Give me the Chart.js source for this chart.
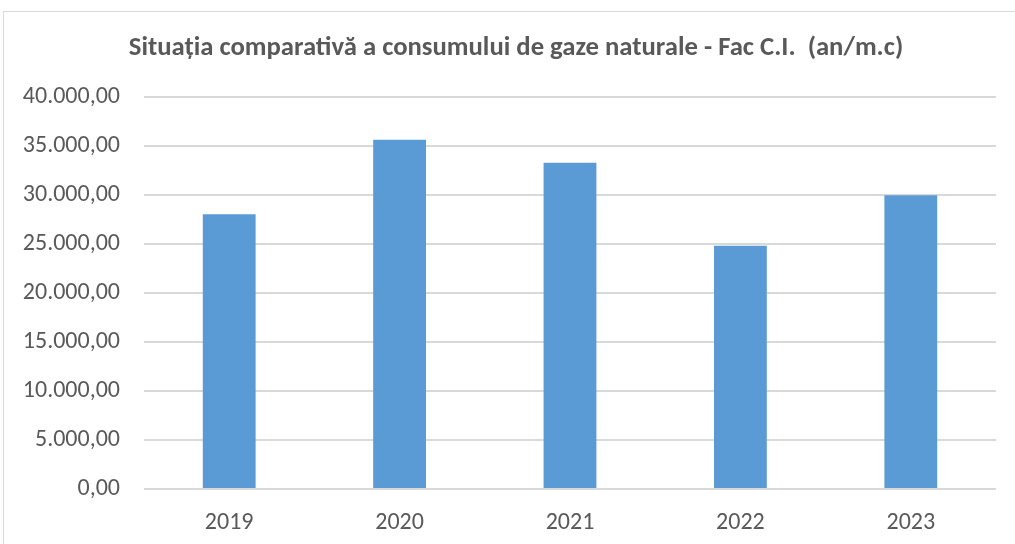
<!DOCTYPE html>
<html>
<head>
<meta charset="utf-8">
<script src="https://cdn.jsdelivr.net/npm/chart.js@4"></script>
<style>
    html, body { margin: 0; padding: 0; background: #fff; overflow: hidden; }
    #frame { position: absolute; left: 3px; top: 11px; width: 1100px; height: 600px; border: 1px solid #d9d9d9; }
    #wrap { position: absolute; left: 0; top: 0; width: 1015px; height: 544px; }
</style>
</head>
<body>
<div id="frame"></div>
<div id="wrap"><canvas id="chart"></canvas></div>
<script>
let years = ["2019", "2020", "2021", "2022", "2023"];
let consum = [28030, 35640, 33300, 24830, 29980];
let titleText = "Situația comparativă a consumului de gaze naturale - Fac C.I.  (an/m.c)";

const FONT = "Carlito, 'Liberation Sans Narrow', 'Open Sans', sans-serif";

function roFormat(v) {
    let s = Math.round(v).toString().replace(/\B(?=(\d{3})+(?!\d))/g, ".");
    return s + ",00";
}

// title drawn by hand so it can sit off-centre like the original
let titlePlugin = {
    id: "titleText",
    afterDraw(chart) {
        let ctx = chart.ctx;
        ctx.save();
        ctx.font = "bold 26.7px " + FONT;
        ctx.fillStyle = "#595959";
        ctx.textAlign = "center";
        ctx.textBaseline = "alphabetic";
        ctx.fillText(titleText, 516, 55);
        ctx.restore();
    }
};

new Chart("chart", {
    type: "bar",
    data: {
        labels: years,
        datasets: [{
            data: consum,
            backgroundColor: "#5b9bd5",
            borderWidth: 0,
            barPercentage: 1,
            categoryPercentage: 0.31
        }]
    },
    options: {
        responsive: true,
        maintainAspectRatio: false,
        animation: false,
        layout: {padding: {top: 97, right: 19, bottom: 0, left: 10}},
        plugins: {
            legend: {display: false},
            tooltip: {enabled: false},
            title: {display: false}
        },
        scales: {
            x: {
                grid: {display: false},
                border: {display: false},
                ticks: {color: "#595959", font: {family: FONT, size: 24}, padding: 12},
                afterFit: s => { s.height = 55; }
            },
            y: {
                min: 0,
                max: 40000,
                ticks: {stepSize: 5000, color: "#595959", font: {family: FONT, size: 24}, padding: 24, callback: v => roFormat(v)},
                grid: {color: "#d9d9d9", lineWidth: 2, drawTicks: false},
                border: {display: false},
                afterFit: s => { s.width = 134; }
            }
        }
    },
    plugins: [titlePlugin]
});
</script>
</body>
</html>
